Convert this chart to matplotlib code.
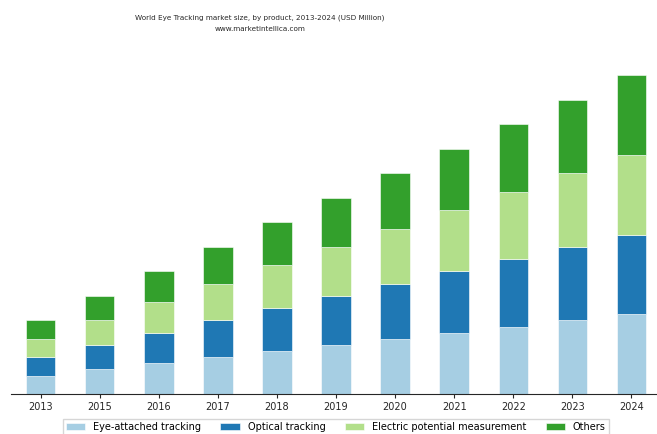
import numpy as np
import matplotlib.pyplot as plt

years = ["2013", "2015", "2016", "2017", "2018", "2019", "2020", "2021", "2022", "2023", "2024"]
eye_attached = [3, 4, 5, 6, 7, 8, 9, 10, 11, 12, 13]
optical = [3, 4, 5, 6, 7, 8, 9, 10, 11, 12, 13]
electric = [3, 4, 5, 6, 7, 8, 9, 10, 11, 12, 13]
others = [3, 4, 5, 6, 7, 8, 9, 10, 11, 12, 13]

series = [
    ("Eye-attached tracking", eye_attached, "#a6cee3"),
    ("Optical tracking", optical, "#1f78b4"),
    ("Electric potential measurement", electric, "#b2df8a"),
    ("Others", others, "#33a02c"),
]

fig = plt.figure(figsize=(6.57, 4.34), dpi=100)
ax = fig.add_axes([11 / 657, 40 / 434, 650 / 657, 337 / 434])

x = np.arange(len(years))
bottom = np.zeros(len(years))
for name, vals, col in series:
    ax.bar(x, vals, 0.5, bottom=bottom, color=col, label=name,
           edgecolor="white", linewidth=0.4)
    bottom += np.array(vals)

ax.set_xlim(-0.5, 10.5)
ax.set_ylim(0, 55)
ax.set_xticks(x)
ax.set_xticklabels(years, fontsize=7, color="#262626")
ax.set_yticks([])
for s in ["top", "right", "left"]:
    ax.spines[s].set_visible(False)
ax.spines["bottom"].set_color("#262626")
ax.tick_params(axis="x", length=3, color="#262626", pad=3)

fig.text(0.396, 1 - 18 / 434, "World Eye Tracking market size, by product, 2013-2024 (USD Million)",
         ha="center", va="center", fontsize=5.2, color="#262626")
fig.text(0.396, 1 - 29 / 434, "www.marketintellica.com",
         ha="center", va="center", fontsize=5.2, color="#262626")

fig.legend(loc="upper center", bbox_to_anchor=(0.511, 1 - 419 / 434), ncol=4, fontsize=7,
           frameon=True, fancybox=False, edgecolor="#cccccc", columnspacing=2.0,
           borderaxespad=0, borderpad=0.3)

fig.savefig("out.png", dpi=100)
